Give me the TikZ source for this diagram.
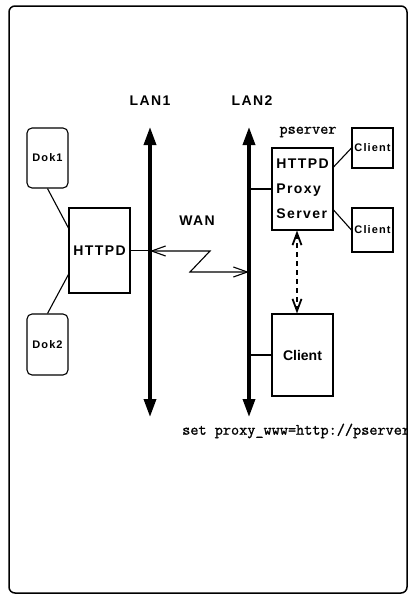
\documentclass[tikz,border=0pt]{standalone}
\usepackage{fontspec}
\setmainfont{Liberation Sans}
\newfontfamily\lblfont[LetterSpace=10]{Liberation Sans Bold}
\newfontfamily\plainbold{Liberation Sans Bold}
\newfontfamily\typefont[FakeBold=1.2]{Latin Modern Mono}
\usetikzlibrary{arrows.meta}

\tikzset{
  boxnode/.style={draw, line width=1.1pt, inner sep=0pt, font=\lblfont\fontsize{14}{16}\selectfont},
  doknode/.style={boxnode, rounded corners=5pt, minimum width=41pt, minimum height=60pt,
                  font=\lblfont\fontsize{11}{13}\selectfont},
  smallclient/.style={boxnode, minimum width=41pt, font=\lblfont\fontsize{11}{13}\selectfont},
  lanlabel/.style={font=\lblfont\fontsize{14}{16}\selectfont, inner sep=0pt},
  monolabel/.style={font=\typefont\fontsize{15.8}{18}\selectfont, inner sep=0pt},
  lanline/.style={line width=3.5pt, {Triangle[length=18pt,width=12pt]}-{Triangle[length=18pt,width=12pt]}},
  link/.style={line width=1.1pt},
  wanlink/.style={line width=1.1pt, {Straight Barb[length=14pt,width=10pt]}-{Straight Barb[length=14pt,width=10pt]}},
  proxylink/.style={line width=1.8pt, dash pattern=on 5pt off 4pt,
                    {Straight Barb[length=12pt,width=9pt]}-{Straight Barb[length=12pt,width=9pt]}},
}

\begin{document}
\begin{tikzpicture}[x=1pt, y=-1pt]
  \useasboundingbox (0,0) rectangle (412,611);

  % network segments
  \coordinate (lan1t) at (150,127);
  \coordinate (lan1b) at (150,417);
  \coordinate (lan2t) at (249,127);
  \coordinate (lan2b) at (249,417);
  \node[lanlabel] (lan1lbl) at (150,101) {LAN1};
  \node[lanlabel] (lan2lbl) at (252,101) {LAN2};

  % left site
  \node[doknode] (dok1) at (47.5,158) {Dok1};
  \node[doknode, minimum height=61pt] (dok2) at (47.5,344.5) {Dok2};
  \node[boxnode, minimum width=61pt, minimum height=85pt] (httpd) at (99.5,250.5) {HTTPD};

  % right site
  \node[monolabel] (pslbl) at (308,132) {pserver};
  \node[boxnode, minimum width=61pt, minimum height=82pt, align=left,
        font=\lblfont\fontsize{14}{25}\selectfont] (proxy) at (302.5,189)
        {HTTPD\\Proxy\\Server};
  \node[smallclient, minimum height=40pt] (cl1) at (372.5,148) {Client};
  \node[smallclient, minimum height=44pt] (cl2) at (372.5,230) {Client};
  \node[boxnode, minimum width=61pt, minimum height=82pt,
        font=\plainbold\fontsize{14}{16}\selectfont] (cbig) at (302.5,355) {Client};

  % WAN
  \node[lanlabel] (wanlbl) at (197,221) {WAN};
  \coordinate (w1) at (210,251);
  \coordinate (w2) at (190,272);

  % connections
  \draw[link] (dok1.south) -- ([yshift=22.5pt]httpd.west);
  \draw[link] (dok2.north) -- ([yshift=-24pt]httpd.west);
  \draw[link] (httpd.east) -- (httpd.east -| lan1t);
  \draw[wanlink] (w1 -| lan1t) -- (w1) -- (w2) -- (w2 -| lan2t);
  \draw[link] (proxy.west -| lan2t) -- (proxy.west);
  \draw[link] (cbig.west -| lan2t) -- (cbig.west);
  \draw[link] ([yshift=22pt]proxy.east) -- (cl1.west);
  \draw[link] ([yshift=-21pt]proxy.east) -- (cl2.west);
  \draw[proxylink] ([xshift=-5.5pt]proxy.south) -- ([xshift=-5.5pt]cbig.north);

  \draw[lanline] (lan1t) -- (lan1b);
  \draw[lanline] (lan2t) -- (lan2b);

  % client setting, cut off at the frame
  \begin{scope}
    \clip (0,0) rectangle (407,611);
    \node[monolabel, anchor=west] (setcmd) at (182,431) {set proxy\_www=http://pserver};
  \end{scope}

  % frame
  \draw[line width=1.5pt, rounded corners=6pt] (9,6) rectangle (407,593);
\end{tikzpicture}
\end{document}
